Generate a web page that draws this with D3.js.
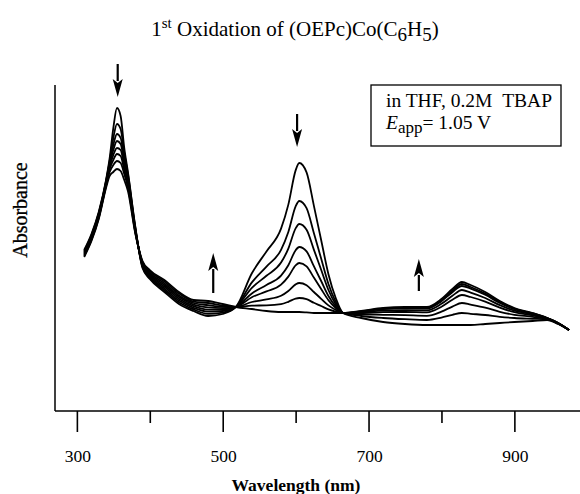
<!DOCTYPE html>
<html><head><meta charset="utf-8">
<script src="https://cdn.jsdelivr.net/npm/d3@7"></script>
<style>
body{margin:0;background:#fff}
svg{display:block}
text{font-family:"Liberation Serif","Times New Roman",serif;fill:#000}
</style>
</head><body>
<svg id="c" width="580" height="494"></svg>
<script>
// Wavelength grid (nm)
const wavelengths = [310,320,330,340,345,350,355,360,365,370,380,390,400,420,440,460,480,500,518,540,560,580,590,600,605,615,625,635,645,655,665,690,720,750,780,800,815,828,840,860,880,900,925,945,960,975];

// Absorbance of each spectrum during the 1st oxidation (scan1 = initial, scan8 = final)
const scan1 = [0.805,0.885,0.995,1.155,1.265,1.415,1.515,1.475,1.315,1.195,0.925,0.715,0.660,0.595,0.535,0.500,0.475,0.485,0.520,0.689,0.798,0.912,1.032,1.203,1.240,1.193,1.027,0.855,0.684,0.565,0.490,0.465,0.445,0.435,0.430,0.430,0.430,0.430,0.430,0.435,0.440,0.445,0.450,0.455,0.435,0.405];
const scan2 = [0.800,0.880,0.990,1.150,1.250,1.365,1.435,1.410,1.290,1.185,0.920,0.720,0.667,0.604,0.544,0.508,0.486,0.492,0.520,0.643,0.722,0.806,0.895,1.023,1.050,1.014,0.890,0.762,0.635,0.546,0.490,0.475,0.465,0.459,0.455,0.467,0.481,0.490,0.486,0.480,0.471,0.465,0.461,0.458,0.437,0.405];
const scan3 = [0.795,0.875,0.985,1.145,1.240,1.330,1.385,1.365,1.265,1.170,0.915,0.725,0.673,0.612,0.552,0.516,0.497,0.500,0.520,0.616,0.676,0.742,0.812,0.913,0.935,0.906,0.807,0.706,0.605,0.534,0.490,0.483,0.481,0.479,0.476,0.497,0.522,0.540,0.532,0.517,0.496,0.481,0.471,0.460,0.438,0.405];
const scan4 = [0.790,0.870,0.980,1.140,1.230,1.305,1.350,1.335,1.245,1.160,0.910,0.730,0.680,0.621,0.561,0.524,0.507,0.507,0.520,0.588,0.630,0.677,0.729,0.804,0.820,0.798,0.724,0.650,0.575,0.523,0.490,0.490,0.494,0.495,0.493,0.521,0.556,0.580,0.570,0.547,0.517,0.494,0.478,0.462,0.439,0.405];
const scan5 = [0.785,0.865,0.975,1.135,1.220,1.280,1.315,1.305,1.225,1.150,0.905,0.735,0.686,0.630,0.570,0.532,0.518,0.514,0.520,0.569,0.598,0.632,0.672,0.728,0.740,0.723,0.667,0.610,0.554,0.515,0.490,0.494,0.502,0.504,0.503,0.536,0.576,0.605,0.592,0.565,0.529,0.502,0.483,0.463,0.439,0.405];
const scan6 = [0.780,0.860,0.970,1.130,1.210,1.255,1.285,1.275,1.205,1.135,0.900,0.740,0.692,0.638,0.578,0.540,0.529,0.521,0.520,0.545,0.558,0.576,0.600,0.633,0.640,0.629,0.595,0.561,0.528,0.505,0.490,0.497,0.509,0.513,0.512,0.549,0.594,0.625,0.612,0.581,0.540,0.509,0.487,0.464,0.440,0.405];
const scan7 = [0.775,0.855,0.965,1.125,1.195,1.230,1.250,1.240,1.185,1.120,0.895,0.745,0.699,0.647,0.587,0.547,0.540,0.528,0.520,0.527,0.528,0.534,0.546,0.562,0.565,0.559,0.541,0.525,0.508,0.497,0.490,0.498,0.512,0.516,0.516,0.554,0.601,0.635,0.620,0.587,0.545,0.512,0.488,0.465,0.440,0.405];
const scan8 = [0.770,0.850,0.960,1.115,1.175,1.195,1.210,1.200,1.155,1.100,0.890,0.750,0.705,0.655,0.595,0.555,0.550,0.535,0.520,0.510,0.500,0.495,0.495,0.495,0.495,0.493,0.490,0.490,0.490,0.490,0.490,0.500,0.515,0.520,0.520,0.560,0.610,0.645,0.630,0.595,0.550,0.515,0.490,0.465,0.440,0.405];
const scans = [scan1,scan2,scan3,scan4,scan5,scan6,scan7,scan8];

// Axis ticks
const majorTicks = [300,500,700,900];
const minorTicks = [400,600,800];
const tickLabels = ["300","500","700","900"];

// Arrows: wavelength, tail absorbance, head absorbance
const arrowWl   = [356, 602, 487, 769];
const arrowFrom = [1.735, 1.485, 0.590, 0.600];
const arrowTo   = [1.570, 1.320, 0.790, 0.760];

const svg = d3.select("#c");
const x = d3.scaleLinear().domain([270, 990]).range([55, 580]);
const y = d3.scaleLinear().domain([0, 1.63]).range([411, 85]);

// Axis lines
svg.append("line").attr("x1",55).attr("x2",55).attr("y1",85).attr("y2",411)
  .attr("stroke","#000").attr("stroke-width",1.5);
svg.append("line").attr("x1",55).attr("x2",580).attr("y1",411).attr("y2",411)
  .attr("stroke","#000").attr("stroke-width",1.5);

// Ticks via d3 axes
const gMaj = svg.append("g").attr("transform","translate(0,411)")
  .call(d3.axisBottom(x).tickValues(majorTicks).tickSize(21).tickFormat(""));
const gMin = svg.append("g").attr("transform","translate(0,411)")
  .call(d3.axisBottom(x).tickValues(minorTicks).tickSize(12).tickFormat(""));
[gMaj,gMin].forEach(g=>{
  g.select(".domain").remove();
  g.selectAll("line").attr("stroke","#000").attr("stroke-width",1.6);
});
svg.selectAll(".tlab").data(majorTicks).enter().append("text")
  .attr("class","tlab").attr("x",d=>x(d)+1).attr("y",462)
  .attr("text-anchor","middle").attr("font-size",17.5)
  .text((d,i)=>tickLabels[i]);

// Axis titles
svg.append("text").attr("x",296).attr("y",491).attr("text-anchor","middle")
  .attr("font-size",17.5).attr("font-weight","bold").text("Wavelength (nm)");
svg.append("text").attr("transform","translate(27,210) rotate(-90)")
  .attr("text-anchor","middle").attr("font-size",20).attr("stroke","#000").attr("stroke-width",0.3)
  .text("Absorbance");

// Title
const t = svg.append("text").attr("x",295).attr("y",36).attr("text-anchor","middle").attr("font-size",21);
t.append("tspan").text("1");
t.append("tspan").attr("dy",-8).attr("font-size",15).text("st");
t.append("tspan").attr("dy",8).text(" Oxidation of (OEPc)Co(C");
t.append("tspan").attr("dy",5).attr("font-size",19).text("6");
t.append("tspan").attr("dy",-5).text("H");
t.append("tspan").attr("dy",5).attr("font-size",19).text("5");
t.append("tspan").attr("dy",-5).text(")");

// Spectra
const line = d3.line().x((d,i)=>x(wavelengths[i])).y(d=>y(d)).curve(d3.curveMonotoneX);
svg.append("g").selectAll("path").data(scans).enter().append("path")
  .attr("d",line).attr("fill","none").attr("stroke","#000").attr("stroke-width",1.8)
  .attr("stroke-linejoin","round");

// Arrows
arrowWl.forEach((w,i)=>{
  const ax = x(w), y1 = y(arrowFrom[i]), y2 = y(arrowTo[i]);
  const dir = y2 > y1 ? 1 : -1;
  const hl = 18, hw = 5;
  svg.append("line").attr("x1",ax).attr("x2",ax).attr("y1",y1).attr("y2",y2 - dir*hl+dir*2)
    .attr("stroke","#000").attr("stroke-width",2.2);
  svg.append("path")
    .attr("d",`M${ax},${y2} L${ax-hw},${y2-dir*hl} L${ax},${y2-dir*(hl-4)} L${ax+hw},${y2-dir*hl} Z`)
    .attr("fill","#000");
});

// Legend box
svg.append("rect").attr("x",371).attr("y",85).attr("width",190).attr("height",61)
  .attr("fill","none").attr("stroke","#000").attr("stroke-width",1.3);
svg.append("text").attr("x",386).attr("y",107).attr("font-size",19.5)
  .text("in THF, 0.2M\u00A0\u00A0TBAP");
const e = svg.append("text").attr("x",386).attr("y",129).attr("font-size",19.5);
e.append("tspan").attr("font-style","italic").text("E");
e.append("tspan").attr("dy",4).attr("font-size",17).text("app");
e.append("tspan").attr("dy",-4).text("= 1.05 V");
</script>
</body></html>
